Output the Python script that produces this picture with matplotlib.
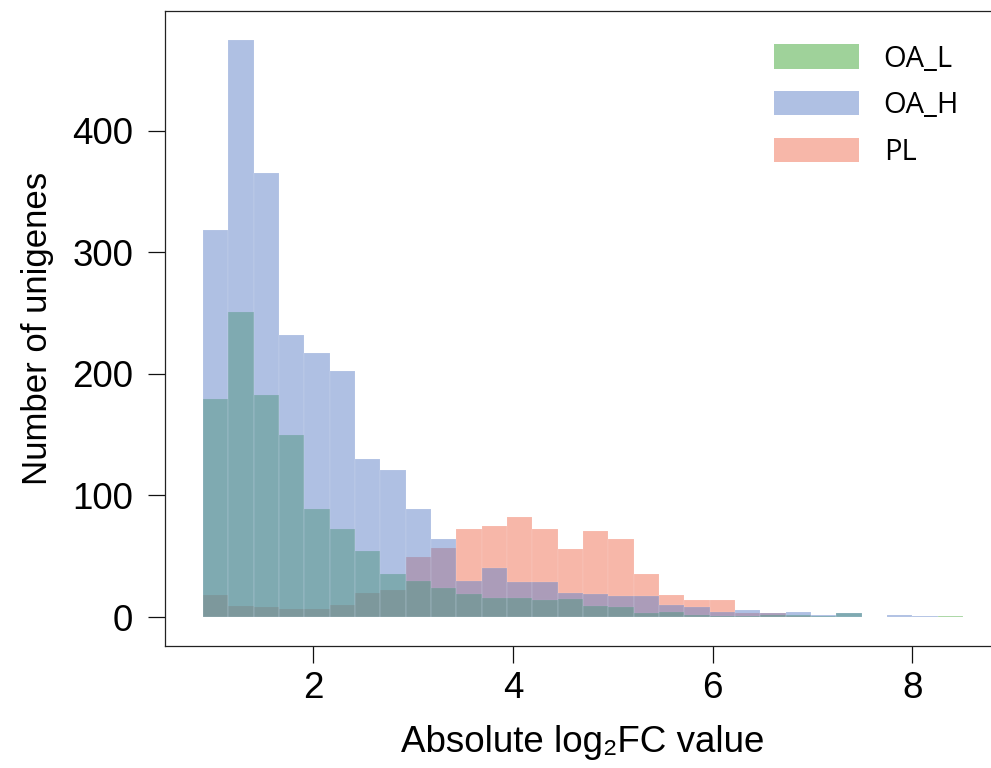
import matplotlib
matplotlib.use("Agg")
import matplotlib.pyplot as plt
import numpy as np
from matplotlib.patches import Patch

# bin edges of the histogram (absolute log2FC)
bin_start = 0.895
bin_end = 8.508
n_bins = 30

# counts per bin
oa_l = [179, 251, 183, 150, 89, 72, 54, 35, 30, 24, 19, 16, 16, 14, 15,
        9, 8, 3, 4, 2, 1, 1, 2, 2, 1, 3, 0, 0, 0, 1]
oa_h = [318, 475, 365, 232, 217, 202, 130, 121, 89, 64, 30, 40, 29, 29, 20,
        19, 17, 17, 10, 8, 4, 6, 3, 4, 2, 3, 0, 2, 1, 0]
pl = [18, 9, 8, 7, 7, 10, 20, 22, 49, 57, 72, 75, 82, 72, 56,
      71, 64, 35, 18, 14, 14, 3, 3, 1, 0, 0, 0, 0, 0, 0]

labels = ["OA_L", "OA_H", "PL"]
colors = {"OA_L": "#41a737", "OA_H": "#6183c9", "PL": "#f17055"}
alpha = 0.5

edges = np.linspace(bin_start, bin_end, n_bins + 1)
centers = (edges[:-1] + edges[1:]) / 2

fig = plt.figure(figsize=(9.91, 7.68), dpi=100)
ax = fig.add_axes([0.1665, 0.159, 0.8436, 0.827])

# drawing order: red, green, blue on top
for name, counts in [("PL", pl), ("OA_L", oa_l), ("OA_H", oa_h)]:
    ax.hist(centers, bins=edges, weights=counts, color=colors[name],
            alpha=alpha, edgecolor="white", linewidth=0.15)

# same padding as default autoscale (5%) on both axes
ymax = max(oa_h)
ax.set_ylim(-0.05 * ymax, 1.05 * ymax)

ax.set_xticks([2, 4, 6, 8])
ax.set_yticks([0, 100, 200, 300, 400])
ax.tick_params(axis="both", direction="out", length=12, width=0.9,
               labelsize=26.5, color="#111111")
ax.tick_params(axis="x", pad=6)
ax.tick_params(axis="y", pad=11)
for lab in ax.get_xticklabels() + ax.get_yticklabels():
    lab.set_family(["Liberation Sans", "DejaVu Sans"])

for sp in ax.spines.values():
    sp.set_linewidth(0.9)
    sp.set_color("#222222")

ax.set_xlabel("Absolute log\u2082FC value", fontsize=26.5,
              family=["Liberation Sans", "DejaVu Sans"], labelpad=14)
ax.set_ylabel("Number of unigenes", fontsize=25,
              family=["Liberation Sans", "DejaVu Sans"], labelpad=13)

handles = [Patch(facecolor=colors[n], alpha=alpha, edgecolor="none") for n in labels]
ax.legend(handles, labels, loc="upper left", bbox_to_anchor=(0.694, 0.993),
          frameon=False, prop={"family": "Open Sans", "size": 21},
          handlelength=2.9, handleheight=0.9, handletextpad=0.85,
          labelspacing=0.6, borderaxespad=0.6)

fig.savefig("out.png", dpi=100)
